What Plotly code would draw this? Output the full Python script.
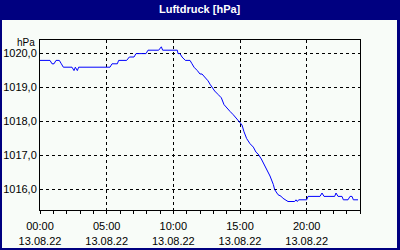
import plotly.graph_objects as go

# Time of day (hours) and pressure readings (hPa) for 13.08.22
hours = [0.0, 0.75, 0.9, 1.05, 1.2, 1.45, 1.6, 1.75, 2.4, 2.55, 2.65, 2.8, 2.9,
         5.25, 5.4, 5.8, 5.9, 6.5, 6.7, 7.05, 7.2, 7.95, 8.1, 8.9, 9.1, 9.2,
         10.3, 10.35, 10.5, 10.65, 10.9, 11.25, 11.4, 11.55, 11.8, 12.0, 12.15,
         12.4, 12.6, 12.75, 12.9, 13.1, 13.35, 13.6, 13.8, 14.0, 14.25, 14.5,
         14.7, 14.9, 15.15, 15.3, 15.5, 15.75, 16.0, 16.2, 16.35, 16.6, 16.8,
         17.0, 17.25, 17.5, 17.6, 17.85, 18.1, 18.2, 18.45, 18.6, 19.1, 19.2,
         19.3, 19.4, 20.0, 20.1, 21.0, 21.15, 21.3, 22.1, 22.2, 22.35, 22.65,
         22.75, 23.1, 23.25, 23.4, 23.5, 23.85]
pressure = [1019.8, 1019.8, 1019.7, 1019.7, 1019.8, 1019.8, 1019.7, 1019.6, 1019.6,
            1019.5, 1019.6, 1019.5, 1019.6,
            1019.6, 1019.7, 1019.7, 1019.8, 1019.8, 1019.9, 1019.9, 1020.0, 1020.0,
            1020.1, 1020.1, 1020.2, 1020.1,
            1020.1, 1020.0, 1020.0, 1019.9, 1019.8, 1019.8, 1019.7, 1019.6, 1019.5,
            1019.4, 1019.4,
            1019.3, 1019.2, 1019.1, 1019.0, 1018.9, 1018.8, 1018.7, 1018.5, 1018.4,
            1018.3, 1018.2,
            1018.1, 1018.0, 1017.9, 1017.7, 1017.5, 1017.35, 1017.25, 1017.1, 1017.05,
            1016.9, 1016.75,
            1016.6, 1016.4, 1016.15, 1016.0, 1015.85, 1015.8, 1015.75, 1015.7, 1015.65,
            1015.65, 1015.7,
            1015.65, 1015.7, 1015.7, 1015.8, 1015.8, 1015.9, 1015.8, 1015.8, 1015.9,
            1015.8, 1015.8,
            1015.7, 1015.7, 1015.8, 1015.8, 1015.7, 1015.7]

date = "2022-08-13"
times = [f"{date} {int(h):02d}:{int(round((h - int(h)) * 60)):02d}" for h in hours]

title_text = "Luftdruck [hPa]"
unit_text = "hPa"
y_ticks = [1016, 1017, 1018, 1019, 1020]

NAVY = "#000080"
BG = "#F8FCF8"

W, H = 400, 250
L, R, T, B = 40, 40, 40, 40
PW, PH = W - L - R, H - T - B


def px(x):
    return (x - L) / PW


def py(y):
    return (H - B - y) / PH


fig = go.Figure()
fig.add_trace(go.Scatter(x=times, y=pressure, mode="lines",
                         line=dict(color="#0000FF", width=1), hoverinfo="skip"))

font = "Liberation Sans, DejaVu Sans, sans-serif"

fig.update_layout(
    width=W, height=H,
    margin=dict(l=L, r=R, t=T, b=B, autoexpand=False),
    paper_bgcolor=NAVY,
    plot_bgcolor=BG,
    showlegend=False,
    separators=",.",
    font=dict(family=font, size=11, color="black"),
    shapes=[
        dict(type="rect", xref="paper", yref="paper", layer="below",
             x0=px(2), x1=px(397), y0=py(248), y1=py(20),
             fillcolor=BG, line=dict(width=0)),
    ],
    annotations=[
        dict(text="<b>" + title_text + "</b>", xref="paper", yref="paper",
             x=px(200), y=py(9.5), xanchor="center", yanchor="middle",
             showarrow=False, font=dict(color="white", size=11, family=font)),
        dict(text=unit_text, xref="paper", yref="paper",
             x=px(37), y=py(42.5), xanchor="right", yanchor="middle",
             showarrow=False, font=dict(color="black", size=10, family=font)),
    ],
)

fig.update_xaxes(
    type="date", automargin=False,
    range=[f"{date} 00:00", "2022-08-14 00:00"],
    tick0=f"{date} 00:00", dtick=5 * 3600000,
    tickformat="%H:%M<br>%d.%m.%y",
    ticks="outside", ticklen=3, tickcolor="black", ticklabelstandoff=3,
    minor=dict(dtick=3600000, ticks="outside", ticklen=3, tickcolor="black", showgrid=False),
    showgrid=True, gridcolor="black", griddash="3px,3px", gridwidth=1,
    showline=True, linecolor="black", linewidth=1, mirror=True,
    zeroline=False,
    tickfont=dict(size=11, color="black", family=font),
)
fig.update_yaxes(
    automargin=False,
    range=[1015.4, 1020.4],
    tickvals=y_ticks, tickformat=".1f",
    ticks="", showgrid=True, gridcolor="black", griddash="3px,3px", gridwidth=1,
    showline=True, linecolor="black", linewidth=1, mirror=True,
    zeroline=False,
    tickfont=dict(size=11, color="black", family=font),
)

fig.write_html("out.html")
